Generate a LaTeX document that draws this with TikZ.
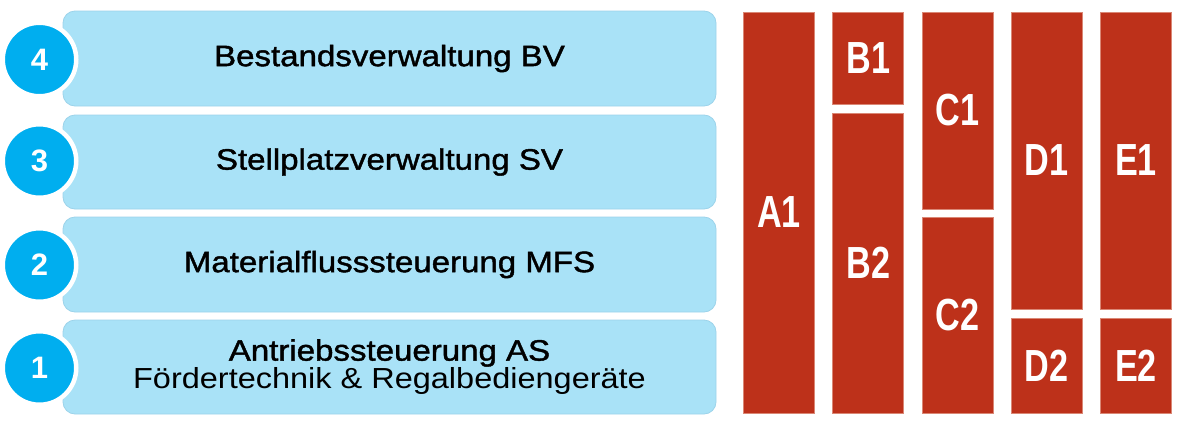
\documentclass[tikz,border=0pt]{standalone}
\usepackage{fontspec}
\setmainfont{Liberation Sans}
\newfontfamily\condfont[FakeStretch=0.76]{Liberation Sans}
\newfontfamily\medfont[FakeBold=1.4,FakeStretch=1.12]{Liberation Sans}
\newfontfamily\widefont[FakeStretch=1.12]{Liberation Sans}
\definecolor{boxfill}{HTML}{A9E2F7}
\definecolor{boxline}{HTML}{9CD3EA}
\definecolor{numblue}{HTML}{00AEEF}
\definecolor{blkred}{HTML}{BD311A}
\definecolor{blkline}{HTML}{DA8775}
\tikzset{
  layer/.style={draw=boxline, fill=boxfill, rounded corners=12pt, line width=0.8pt,
    minimum width=653pt, inner sep=0pt, text=black, align=center},
  titlefont/.style={font=\medfont\fontsize{29.5}{32}\selectfont},
  num/.style={circle, fill=numblue, draw=white, line width=4.5pt, minimum size=73.5pt,
    inner sep=0pt, text=white, font=\bfseries\fontsize{31}{31}\selectfont},
  blk/.style={fill=blkred, draw=blkline, line width=0.8pt, text=white, inner sep=0pt,
    minimum width=71pt, font=\condfont\bfseries\fontsize{45}{45}\selectfont},
}
\begin{document}
\begin{tikzpicture}[x=1pt,y=-1pt]
\useasboundingbox (0,0) rectangle (1182,426);
% layers
\node[layer, titlefont, minimum height=95pt] (L4) at (389.5,58.5) {Bestandsverwaltung BV};
\node[layer, titlefont, minimum height=94pt] (L3) at (389.5,162) {Stellplatzverwaltung SV};
\node[layer, titlefont, minimum height=95pt] (L2) at (389.5,264.5) {Materialflusssteuerung MFS};
\node[layer, minimum height=94pt] (L1) at (389.5,367)
  {{\medfont\fontsize{29.5}{32}\selectfont Antriebssteuerung AS}\\[0pt]
   {\widefont\fontsize{29}{32}\selectfont Fördertechnik \& Regalbediengeräte}};
% numbers
\node[num] (N4) at (39.5,59.5) {4};
\node[num] (N3) at (39.5,161) {3};
\node[num] (N2) at (39.5,265) {2};
\node[num] (N1) at (39.5,368) {1};
% blocks
\node[blk, minimum height=401pt] (A1) at (779,212.5) {A1};
\node[blk, minimum height=92pt] (B1) at (868.3,58) {B1};
\node[blk, minimum height=300pt] (B2) at (868.3,263) {B2};
\node[blk, minimum height=197pt] (C1) at (957.5,110.5) {C1};
\node[blk, minimum height=196pt] (C2) at (957.5,315) {C2};
\node[blk, minimum height=297pt] (D1) at (1046.8,160.5) {D1};
\node[blk, minimum height=95pt] (D2) at (1046.8,365.5) {D2};
\node[blk, minimum height=297pt] (E1) at (1136,160.5) {E1};
\node[blk, minimum height=95pt] (E2) at (1136,365.5) {E2};
\end{tikzpicture}
\end{document}
